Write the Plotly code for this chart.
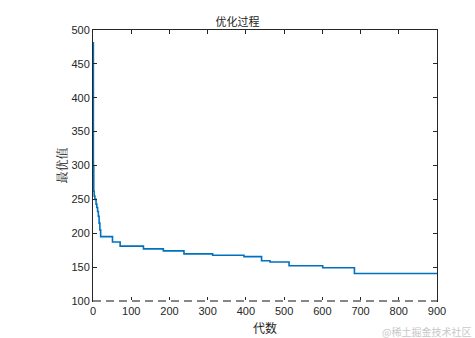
import plotly.graph_objects as go

# generation at which each best value starts
generations = [0, 1, 2, 3, 5, 8, 10, 12, 14, 16, 18, 20, 51, 71, 132, 184, 238, 313, 395, 441, 463, 513, 601, 684, 900]
best_values = [481, 300, 262, 255, 250, 243, 238, 232, 225, 215, 205, 195, 187, 181, 177, 174, 169.5, 167.5, 165.5, 159.5, 157.5, 152, 149, 140.5, 140.5]

x_ticks = [0, 100, 200, 300, 400, 500, 600, 700, 800, 900]
y_ticks = [100, 150, 200, 250, 300, 350, 400, 450, 500]

axis_color = "#262626"
font_family = "Liberation Sans, Arial, Noto Sans CJK SC, sans-serif"

fig = go.Figure()
fig.add_trace(go.Scatter(
    x=generations, y=best_values, mode="lines",
    line=dict(color="#0072BD", width=1.6, shape="hv"),
    showlegend=False, hoverinfo="skip",
))

fig.update_layout(
    width=475, height=338,
    margin=dict(l=93, r=38, t=30, b=37),
    paper_bgcolor="white", plot_bgcolor="white",
    font=dict(family=font_family, size=11, color=axis_color),
    title=dict(text="优化过程", x=0.5, xanchor="center", y=1 - 22/338, yanchor="middle",
               font=dict(family="Noto Sans CJK SC", size=11, color="#222222")),
    xaxis=dict(range=[0, 900], tickvals=x_ticks, ticks="inside", ticklen=4, tickcolor=axis_color,
               showline=True, linecolor=axis_color, linewidth=1, mirror="allticks",
               showgrid=False, zeroline=False, automargin=False,
               title=dict(text="代数", standoff=8,
                          font=dict(family="Noto Sans CJK SC", size=12, color="#222222")),
               tickfont=dict(size=11)),
    yaxis=dict(range=[100, 500], tickvals=y_ticks, ticks="inside", ticklen=4, tickcolor=axis_color,
               showline=True, linecolor=axis_color, linewidth=1, mirror="allticks",
               showgrid=False, zeroline=False, automargin=False,
               title=dict(text="最优值", standoff=1,
                          font=dict(family="Noto Serif CJK SC, Noto Sans CJK SC", size=12, color="#222222")),
               tickfont=dict(size=11)),
)

# dashed appearance of the bottom axis line
fig.add_shape(type="line", xref="x domain", yref="y domain", x0=0, x1=1, y0=0, y1=0,
              line=dict(color="white", width=2), layer="above")
fig.add_shape(type="line", xref="x domain", yref="y domain", x0=0, x1=1, y0=0, y1=0,
              line=dict(color="#111111", width=1.2, dash="8px,5px"), layer="above")

fig.add_annotation(text="@稀土掘金技术社区", xref="paper", yref="paper",
                   x=1, y=0, xanchor="right", yanchor="top", yshift=-21, xshift=36,
                   showarrow=False,
                   font=dict(family="Noto Sans CJK SC", size=10, color="#c8c8c8"))

fig.write_html("out.html")
